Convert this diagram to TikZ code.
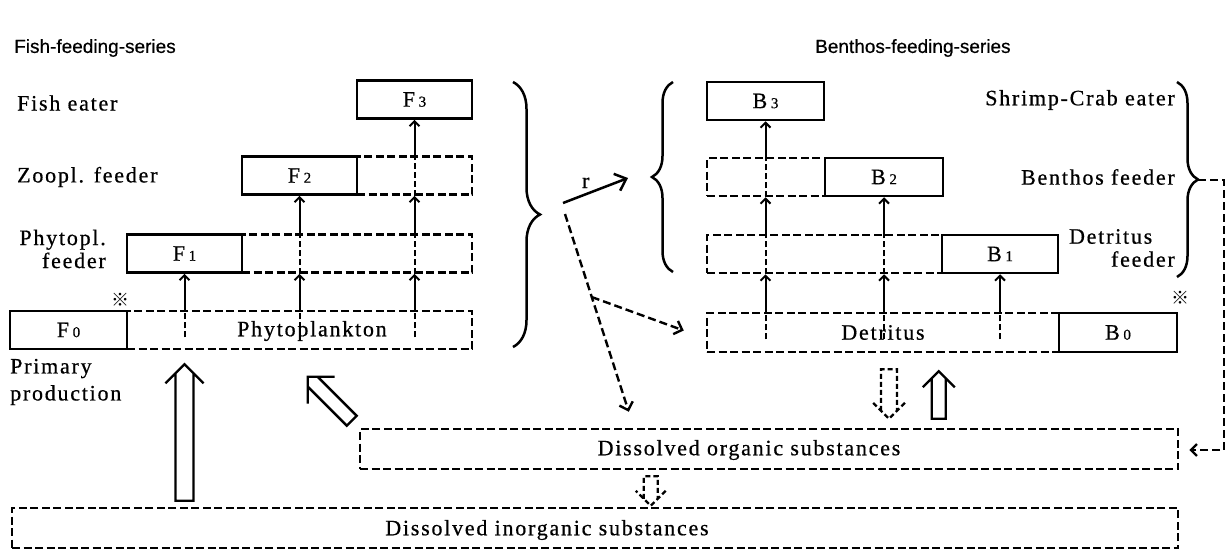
\documentclass[tikz,border=0pt]{standalone}
\usepackage{fontspec}
\newfontfamily\labfont{Liberation Serif}[LetterSpace=8, FakeBold=0.6]
\newfontfamily\headfont{Liberation Sans}[FakeBold=0.4]
\newfontfamily\markfont{Noto Sans CJK JP}
\usetikzlibrary{arrows.meta,calc,decorations.pathreplacing}

% level label: letter, small index
\newcommand{\lev}[2]{#1\,{\fontsize{15}{15}\selectfont #2}}

% hollow (double stroke) arrow from #2 to #3, shaft half width #4, head half width #5
\newcommand{\fatarrow}[5][]{%
  \path (#2) coordinate (fa-s) (#3) coordinate (fa-e);
  \path let \p1=($(fa-e)-(fa-s)$) in
    \pgfextra{\pgfmathsetmacro\faang{atan2(\y1,\x1)}%
              \pgfmathsetmacro\falen{veclen(\x1,\y1)}%
              \xdef\faang{\faang}\xdef\falen{\falen}};
  \begin{scope}[shift={(fa-s)}, rotate=\faang]
    \draw[#1] (\falen-#4,#4) -- (0,#4) -- (0,-#4) -- (\falen-#4,-#4)
      (\falen-#5,-#5) -- (\falen,0) -- (\falen-#5,#5);
  \end{scope}
}

\begin{document}
\begin{tikzpicture}[x=1pt, y=-1pt,
    lbl/.style={font=\labfont\fontsize{22}{23}\selectfont},
    sbox/.style={draw, line width=2.5pt, inner sep=0pt, minimum height=38pt, lbl},
    dbox/.style={sbox, dash pattern=on 8pt off 3.5pt},
    up/.style={line width=2pt, -{Straight Barb[length=5pt,width=10pt]}},
    vdash/.style={line width=2pt, dash pattern=on 6pt off 3pt},
    dline/.style={line width=2.4pt, dash pattern=on 8pt off 4pt},
    curly/.style={decorate, decoration={brace, amplitude=#1}, line width=2.5pt},
    ttl/.style={font=\headfont\fontsize{19}{19}\selectfont, inner sep=0pt, anchor=west},
    refmark/.style={font=\markfont\fontsize{18}{18}\selectfont, inner sep=0pt}]
  \useasboundingbox (0,0) rectangle (1227,550);

  \node[ttl] (fishttl) at (14,48) {Fish-feeding-series};
  \node[ttl] (benttl) at (815,48) {Benthos-feeding-series};

  % fish-feeding series
  \node[sbox, minimum width=115pt] (F3) at (414.5,99.5) {\lev{F}{3}};
  \node[dbox, minimum width=115pt] (F2d) at (414.5,175.5) {};
  \node[sbox, minimum width=115pt] (F2) at (299.5,175.5) {\lev{F}{2}};
  \node[dbox, minimum width=230pt] (F1d) at (357,253.5) {};
  \node[sbox, minimum width=115pt] (F1) at (184.5,253.5) {\lev{F}{1}};
  \node[dbox, minimum width=345pt] (phyto) at (299.5,330) {};
  \node[lbl] (phytotxt) at (312,331) {Phytoplankton};
  \node[sbox, minimum width=117pt] (F0) at (68.5,330) {\lev{F}{0}};
  \node[refmark] (F0mark) at (120,300) {※};

  \node[lbl, anchor=west, inner sep=0pt] at (17,103) {Fish eater};
  \node[lbl, anchor=west, inner sep=0pt] at (17,177) {Zoopl. feeder};
  \node[lbl, anchor=east, inner sep=0pt, align=right] at (106,249) {Phytopl.\\feeder};
  \node[lbl, anchor=west, inner sep=0pt, align=left,
        font=\labfont\fontsize{22}{27}\selectfont] at (10,382) {Primary\\production};

  % benthos-feeding series
  \node[sbox, minimum width=117pt] (B3) at (765.5,101) {\lev{B}{3}};
  \node[dbox, minimum width=118pt] (B2d) at (766,177) {};
  \node[sbox, minimum width=118pt] (B2) at (884,177) {\lev{B}{2}};
  \node[dbox, minimum width=235pt] (B1d) at (824.5,254) {};
  \node[sbox, minimum width=116pt] (B1) at (1000,254) {\lev{B}{1}};
  \node[dbox, minimum width=352pt, minimum height=39pt] (det) at (883,332.5) {Detritus};
  \node[sbox, minimum width=118pt, minimum height=39pt] (B0) at (1118,332.5) {\lev{B}{0}};
  \node[refmark] (B0mark) at (1180,298) {※};

  \node[lbl, anchor=east, inner sep=0pt] at (1175,100) {Shrimp-Crab eater};
  \node[lbl, anchor=east, inner sep=0pt] at (1175,177) {Benthos feeder};
  \node[lbl, anchor=east, inner sep=0pt, align=right] at (1175,248) {Detritus\hphantom{ab}\\feeder};

  % dissolved substances
  \node[dbox, minimum width=818pt, minimum height=40pt] (org) at (769,449) {};
  \node[lbl] (orgtxt) at (749,450) {Dissolved organic substances};
  \node[dbox, minimum width=1166pt, minimum height=40pt] (inorg) at (595,528) {};
  \node[lbl] (inorgtxt) at (547,530) {Dissolved inorganic substances};

  % feeding steps, left
  \draw[vdash] ($(phyto.south -| F1.center)+(0,-13)$) -- (phyto.north -| F1.center);
  \draw[up] (phyto.north -| F1.center) -- (F1.south);
  \draw[vdash] ($(phyto.south -| F2.center)+(0,-13)$) -- (phyto.north -| F2.center);
  \draw[up] (phyto.north -| F2.center) -- (F1d.south -| F2.center);
  \draw[vdash] (F1d.south -| F2.center) -- (F1d.north -| F2.center);
  \draw[up] (F1d.north -| F2.center) -- (F2.south);
  \draw[vdash] ($(phyto.south -| F3.center)+(0,-13)$) -- (phyto.north -| F3.center);
  \draw[up] (phyto.north -| F3.center) -- (F1d.south -| F3.center);
  \draw[vdash] (F1d.south -| F3.center) -- (F1d.north -| F3.center);
  \draw[up] (F1d.north -| F3.center) -- (F2d.south -| F3.center);
  \draw[vdash] (F2d.south -| F3.center) -- (F2d.north -| F3.center);
  \draw[up] (F2d.north -| F3.center) -- (F3.south);

  % feeding steps, right
  \draw[vdash] ($(det.south -| B3.center)+(0,-14)$) -- (det.north -| B3.center);
  \draw[up] (det.north -| B3.center) -- (B1d.south -| B3.center);
  \draw[vdash] (B1d.south -| B3.center) -- (B1d.north -| B3.center);
  \draw[up] (B1d.north -| B3.center) -- (B2d.south -| B3.center);
  \draw[vdash] (B2d.south -| B3.center) -- (B2d.north -| B3.center);
  \draw[up] (B2d.north -| B3.center) -- (B3.south);
  \draw[vdash] ($(det.south -| B2.center)+(0,-14)$) -- (det.north -| B2.center);
  \draw[up] (det.north -| B2.center) -- (B1d.south -| B2.center);
  \draw[vdash] (B1d.south -| B2.center) -- (B1d.north -| B2.center);
  \draw[up] (B1d.north -| B2.center) -- (B2.south);
  \draw[vdash] ($(det.south -| B1.center)+(0,-14)$) -- (det.north -| B1.center);
  \draw[up] (det.north -| B1.center) -- (B1.south);

  % braces
  \draw[curly=27pt] (513,82) -- (513,347);
  \draw[curly=21pt] (673,272) -- (673,82);
  \draw[curly=21pt] (1177,82) -- (1177,277);
  \coordinate (Fbr) at (541,215);
  \coordinate (Bbr) at (652,177);
  \coordinate (Rbr) at (1198,180);

  % r and the dashed paths
  \draw[line width=2.5pt, -{Straight Barb[length=10pt,width=18pt]}]
    ($(Fbr)+(22,-12)$) -- ($(Bbr)+(-24,1)$)
    node[lbl, pos=0.35, above=5pt, inner sep=0pt] {r};
  \coordinate (dfoot) at ($(Fbr)+(24,-1)$);
  \coordinate (dtip) at ($(org.north west)+(270,-16)$);
  \coordinate (split) at ($(dfoot)!0.42!(dtip)$);
  \draw[dline, -{Straight Barb[length=7pt,width=14pt]}] (dfoot) -- (dtip);
  \draw[dline, -{Straight Barb[length=7pt,width=14pt]}] (split) -- ($(det.west)+(-22,-2)$);
  \draw[dline, -{Straight Barb[length=6pt,width=12pt]}] (Rbr) -- ++(26,0) |- ($(org.east)+(10,1)$);

  % hollow arrows
  \fatarrow[line width=2.4pt]{$(inorg.north -| F1.center)+(0,-6)$}{$(phyto.south -| F1.center)+(0,14)$}{9}{19}
  \fatarrow[line width=2.4pt]{$(org.north west)+(-7,-7)$}{$(org.north west)+(-51,-51)$}{7}{19}
  \fatarrow[line width=2.4pt]{$(org.north west)+(580,-9)$}{$(det.south west)+(233,18)$}{7}{16}
  \fatarrow[line width=2.2pt, dash pattern=on 5pt off 3pt]{$(det.south -| B2.center)+(5,16)$}{$(org.north -| B2.center)+(5,-9)$}{8}{16}
  \fatarrow[line width=2.2pt, dash pattern=on 5pt off 3pt]{$(org.south west)+(292,6)$}{$(inorg.north west)+(640,-1)$}{7}{15}
\end{tikzpicture}
\end{document}
